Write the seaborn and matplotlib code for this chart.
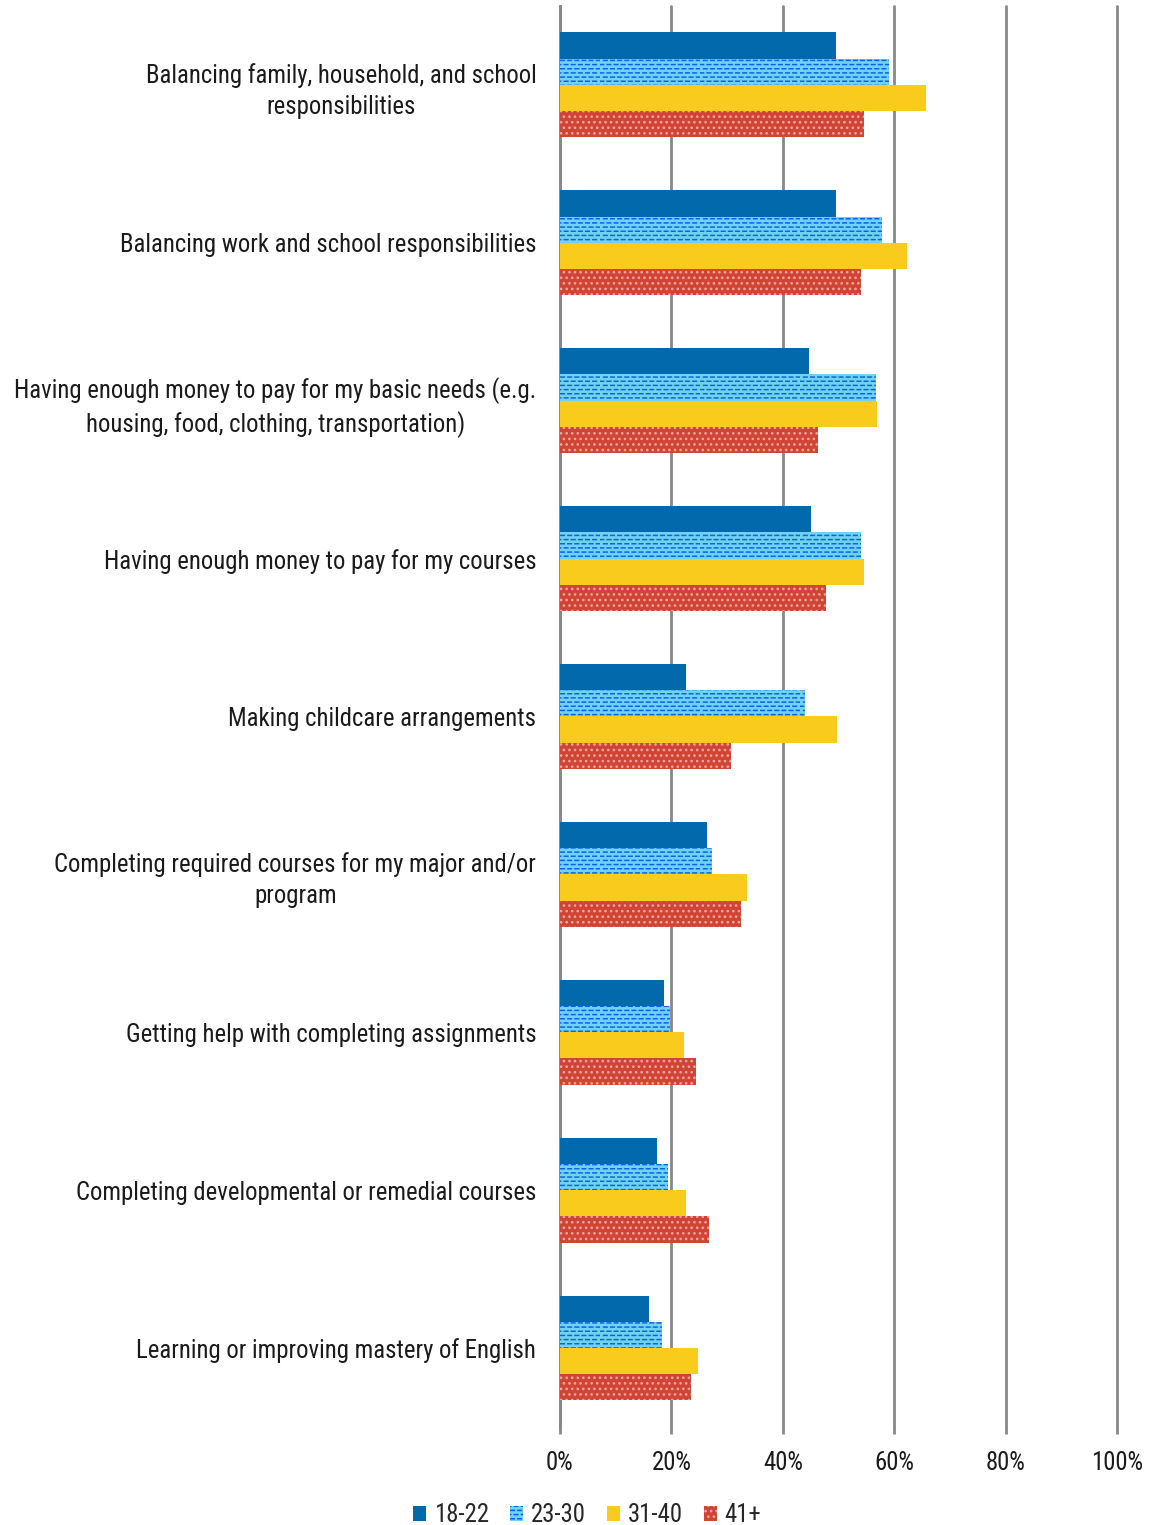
import matplotlib
matplotlib.use("Agg")
import matplotlib.pyplot as plt
import matplotlib.hatch as mhatch
from matplotlib.path import Path
from matplotlib.patches import Patch
from matplotlib import font_manager
import seaborn as sns
import pandas as pd

categories = [
    "Balancing family, household, and school\nresponsibilities",
    "Balancing work and school responsibilities",
    "Having enough money to pay for my basic needs (e.g.\nhousing, food, clothing, transportation)",
    "Having enough money to pay for my courses",
    "Making childcare arrangements",
    "Completing required courses for my major and/or\nprogram",
    "Getting help with completing assignments",
    "Completing developmental or remedial courses",
    "Learning or improving mastery of English",
]
age_groups = ["18-22", "23-30", "31-40", "41+"]
v_18_22 = [49.6, 49.6, 44.7, 45.1, 22.6, 26.4, 18.7, 17.4, 16.0]
v_23_30 = [59.1, 57.8, 56.7, 54.0, 44.0, 27.3, 19.7, 19.4, 18.3]
v_31_40 = [65.7, 62.3, 56.9, 54.6, 49.7, 33.6, 22.3, 22.6, 24.8]
v_41_up = [54.6, 54.0, 46.3, 47.8, 30.7, 32.5, 24.4, 26.8, 23.5]
xticks = [0, 20, 40, 60, 80, 100]


class DashedHorizontalHatch(mhatch.HatchPatternBase):
    """Rows of short horizontal dashes, every other row shifted half a period."""

    def __init__(self, hatch, density):
        n = hatch.count('-')
        self.num_rows = 4 * density if n else 0
        self.num_dashes = 14
        self.num_vertices = self.num_rows * self.num_dashes * 2

    def set_vertices_and_codes(self, vertices, codes):
        period = 1.0 / self.num_dashes
        dash = period * 0.5
        k = 0
        for r in range(self.num_rows):
            y = (r + 0.5) / self.num_rows
            shift = 0.0 if r % 2 == 0 else period / 2
            for d in range(self.num_dashes):
                x0 = (d * period + shift) % 1.0
                x1 = min(x0 + dash, 1.0)
                vertices[k] = (x0, y)
                vertices[k + 1] = (x1, y)
                codes[k] = Path.MOVETO
                codes[k + 1] = Path.LINETO
                k += 2


mhatch._hatch_types = [DashedHorizontalHatch if t is mhatch.HorizontalHatch else t
                       for t in mhatch._hatch_types]

names = {f.name for f in font_manager.fontManager.ttflist}
family = "DejaVu Sans"
for cand in ["Liberation Sans Narrow", "Roboto Condensed", "Liberation Sans", "Roboto"]:
    if cand in names:
        family = cand
        break

sns.set_theme(style="white")
plt.rcParams["font.family"] = [family, "DejaVu Sans"]
plt.rcParams["hatch.linewidth"] = 1.1

rows = []
for grp, vals in zip(age_groups, [v_18_22, v_23_30, v_31_40, v_41_up]):
    for cat, v in zip(categories, vals):
        rows.append({"cat": cat, "age": grp, "pct": v})
df = pd.DataFrame(rows)

face = {"18-22": "#0369ad", "23-30": "#72d2f2", "31-40": "#f8cb1c", "41+": "#d04434"}
hatch = {"18-22": None, "23-30": "-", "31-40": None, "41+": "..."}
hcol = {"18-22": "#0369ad", "23-30": "#0a64e6", "31-40": "#f8cb1c", "41+": "#f5a4a2"}
text_color = "#1a1a1a"
fs = 17.8

fig = plt.figure(figsize=(11.51, 15.25), dpi=100)
ax = fig.add_axes([0.4865, 0.0643, 0.4843, 0.9318])

sns.barplot(data=df, y="cat", x="pct", hue="age", order=categories,
            hue_order=age_groups, orient="h", width=0.665, gap=0,
            palette=face, saturation=1, ax=ax, legend=False, zorder=3)

for grp, cont in zip(age_groups, ax.containers):
    for bar in cont:
        bar.set_facecolor(face[grp])
        bar.set_edgecolor(hcol[grp])
        bar.set_linewidth(0)
        if hatch[grp]:
            bar.set_hatch(hatch[grp])

ax.set_xlim(0, 100)
ax.set_ylim(len(categories) - 0.5, -0.5)
ax.set_xticks(xticks)
ax.set_xticklabels([f"{t}%" for t in xticks], fontsize=fs, color=text_color)
ax.tick_params(axis="x", length=5, width=2, color="#888888", pad=12, direction="out", bottom=True)
ax.tick_params(axis="y", length=0, pad=17)
for lab in ax.get_yticklabels():
    lab.set_fontsize(fs)
    lab.set_color(text_color)
    lab.set_horizontalalignment("right")
    lab.set_multialignment("center")
    lab.set_linespacing(1.35)
ax.set_xlabel("")
ax.set_ylabel("")
ax.xaxis.grid(True, color="#888888", linewidth=2, zorder=0)
for gl in ax.get_xgridlines():
    gl.set_clip_on(False)
ax.set_axisbelow(True)
for s in ["top", "right", "bottom"]:
    ax.spines[s].set_visible(False)
ax.spines["left"].set_color("#888888")
ax.spines["left"].set_linewidth(2)

handles = [Patch(facecolor=face[g], edgecolor=hcol[g], hatch=hatch[g], linewidth=0, label=g)
           for g in age_groups]
fig.legend(handles=handles, loc="lower center", bbox_to_anchor=(0.51, -0.016), ncol=4,
           frameon=False, fontsize=fs, handlelength=0.55, handleheight=0.55,
           handletextpad=0.3, columnspacing=0.85)

fig.savefig("out.png", dpi=100)
